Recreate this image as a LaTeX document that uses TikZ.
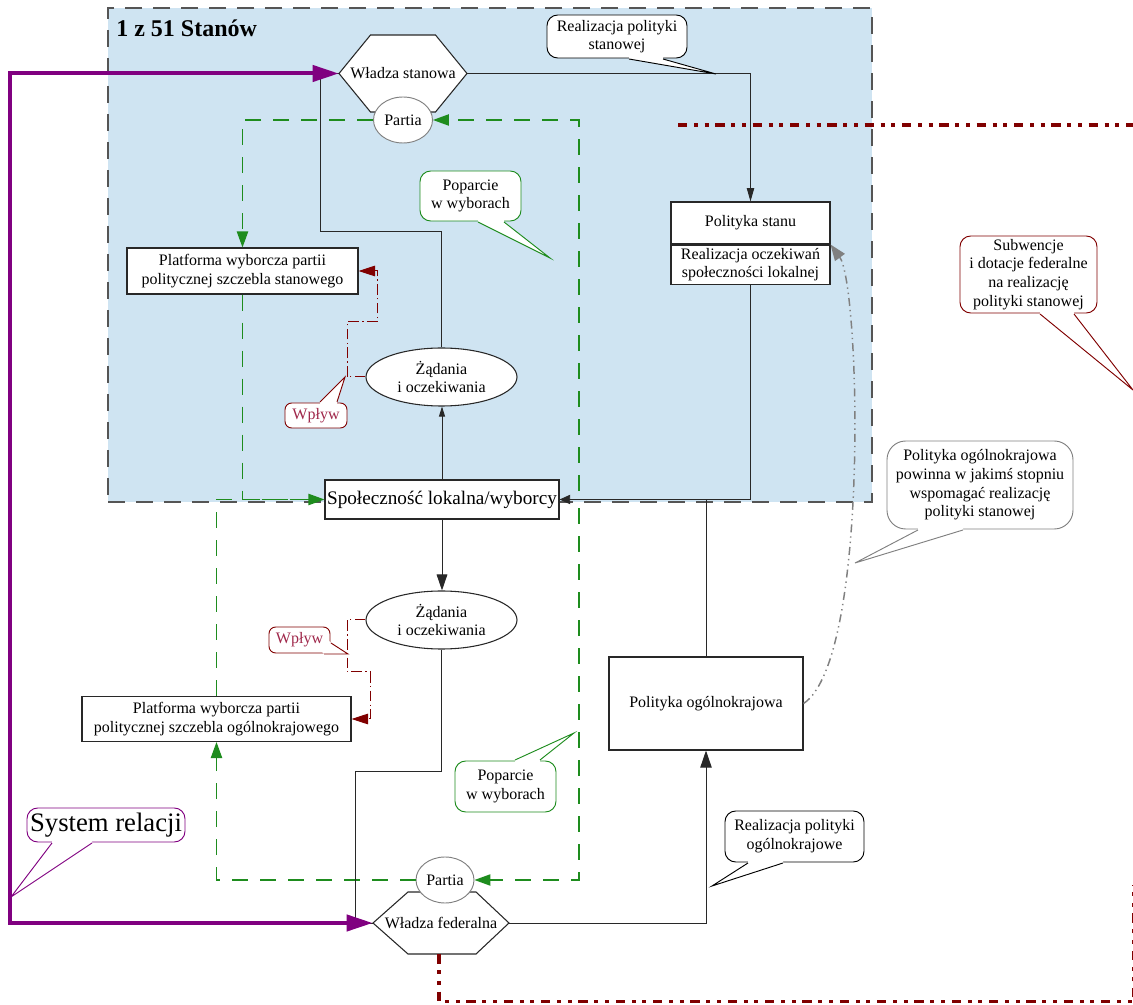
\documentclass[tikz,border=0pt]{standalone}
\usepackage{fontspec}
\setmainfont{Liberation Serif}
\usetikzlibrary{arrows.meta,shapes.geometric,calc}
\definecolor{bluebg}{RGB}{207,228,242}
\definecolor{bordergray}{RGB}{85,85,85}
\definecolor{grn}{RGB}{30,140,30}
\definecolor{dred}{RGB}{128,0,0}
\definecolor{wtxt}{RGB}{160,40,75}
\definecolor{purp}{RGB}{128,0,128}
\definecolor{midgray}{RGB}{128,128,128}
\definecolor{linegray}{RGB}{40,40,40}
\newcommand\mytail[5]{%
  \fill[white] ($#2+#5$) -- #2 -- #3 -- #4 -- ($#4+#5$) -- cycle;
  \draw[#1, line width=0.7pt, line join=miter] #2 -- #3 -- #4;}
\begin{document}
\begin{tikzpicture}[x=0.75pt, y=-0.75pt, font=\fontsize{12}{14}\selectfont,
  box/.style={draw=linegray, fill=white, line width=0.8pt, inner sep=0pt, align=center},
  ell/.style={ellipse, draw=linegray, fill=white, line width=0.8pt, inner sep=0pt, align=center},
  pell/.style={ellipse, draw=midgray, fill=white, line width=0.7pt, inner sep=0pt},
  hexlbl/.style={inner sep=0pt},
  hexshape/.style={draw=linegray, fill=white, line width=0.8pt},
  callout/.style={draw, fill=white, rounded corners=8pt, line width=0.7pt, inner sep=0pt, align=center},
  conn/.style={draw=linegray, line width=0.7pt},
  gconn/.style={draw=grn, line width=0.9pt, dash pattern=on 12pt off 9pt},
  rconn/.style={draw=dred, line width=0.75pt, dash pattern=on 8pt off 2.5pt on 1pt off 2.5pt},
  heavy/.style={draw=dred, line width=2.6pt, dash pattern=on 7pt off 5pt on 3pt off 5pt on 3pt off 5pt},
  ]
\useasboundingbox (0,0) rectangle (1133,1005);

% state region
\node[fill=bluebg, draw=bordergray, line width=1.5pt, dash pattern=on 13pt off 8pt,
      minimum width=573pt, minimum height=370.5pt, inner sep=0pt] (stan) at (490,255) {};
\node[anchor=west, inner sep=0pt, font=\bfseries\fontsize{18}{20}\selectfont] (title) at (116,28) {1 z 51 Stanów};

% heavy red dotted line (top)
\coordinate (rA) at (678,125);
\coordinate (rB) at (1140,125);
\draw[heavy] (rA) -- (rB);

% hexagons and party ellipses
\draw[hexshape] (339,73.5) -- (370.5,35) -- (435.5,35) -- (467,73.5) -- (435.5,112) -- (370.5,112) -- cycle;
\node[hexlbl, minimum width=96pt, minimum height=57.75pt] (WS) at (403,73.5) {Władza stanowa};
\node[pell, minimum width=44.25pt, minimum height=34.5pt] (P1) at (403,120) {Partia};

\draw[hexshape] (373,923) -- (408,892) -- (476,892) -- (509,923) -- (476,954) -- (408,954) -- cycle;
\node[hexlbl, minimum width=102pt, minimum height=46.5pt] (WF) at (441,923) {Władza federalna};
\node[pell, minimum width=43.5pt, minimum height=34.5pt] (P2) at (445,880) {Partia};

% main nodes
\node[ell, minimum width=113.25pt, minimum height=43.5pt] (Z1) at (441.5,377) {Żądania\\i oczekiwania};
\node[ell, minimum width=113.25pt, minimum height=43.5pt] (Z2) at (441.5,620) {Żądania\\i oczekiwania};
\node[box, minimum width=175.5pt, minimum height=29.25pt, font=\fontsize{14.4}{16}\selectfont] (S) at (442,499.5) {Społeczność lokalna/wyborcy};
\node[box, minimum width=173.25pt, minimum height=34.5pt] (PS) at (242.5,271) {Platforma wyborcza partii\\politycznej szczebla stanowego};
\node[box, minimum width=201.75pt, minimum height=33.75pt] (PO) at (216.5,719) {Platforma wyborcza partii\\politycznej szczebla ogólnokrajowego};
\node[box, minimum width=119.25pt, minimum height=31.5pt] (PST) at (750.5,223) {Polityka stanu};
\node[box, minimum width=119.25pt, minimum height=29.25pt, anchor=north] (PSB) at (PST.south) {Realizacja oczekiwań\\społeczności lokalnej};
\node[box, minimum width=145.5pt, minimum height=69.75pt] (POG) at (706,703.5) {Polityka ogólnokrajowa};

% callouts
\node[callout, minimum width=105pt, minimum height=32.25pt] (C1) at (617,36.5) {Realizacja polityki\\stanowej};
\node[callout, draw=grn, minimum width=75.75pt, minimum height=37.5pt] (C2) at (470.5,196) {Poparcie\\w wyborach};
\node[callout, draw=dred, text=wtxt, minimum width=46.5pt, minimum height=18.75pt, rounded corners=5pt] (C3) at (316,415.5) {Wpływ};
\node[callout, draw=dred, minimum width=102.75pt, minimum height=57.75pt] (C4) at (1028.5,274.5) {Subwencje\\i dotacje federalne\\na realizację\\polityki stanowej};
\node[callout, draw=midgray, minimum width=139.5pt, minimum height=66pt, rounded corners=14pt] (C5) at (980,485) {Polityka ogólnokrajowa\\powinna w jakimś stopniu\\wspomagać realizację\\polityki stanowej};
\node[callout, draw=dred, text=wtxt, minimum width=45.75pt, minimum height=19.5pt, rounded corners=5pt] (C6) at (299.5,640) {Wpływ};
\node[callout, draw=grn, minimum width=75.75pt, minimum height=38.25pt] (C7) at (505.5,786.5) {Poparcie\\w wyborach};
\node[callout, minimum width=104.25pt, minimum height=38.25pt] (C8) at (794.5,836.5) {Realizacja polityki\\ogólnokrajowe};
\node[callout, draw=purp, minimum width=118.5pt, minimum height=25.5pt, font=\fontsize{20}{22}\selectfont] (C9) at (106,825) {System relacji};

% bottom heavy red dotted line
\coordinate (rC) at (439,1001.5);
\coordinate (rD) at (1134.2,1001.5);
\coordinate (rE) at (1134.2,885);
\draw[heavy] (WF.south -| rC) -- (rC) -- (rD) -- (rE);

% green connectors
\coordinate (g1) at (579,499.5);
\draw[gconn, -{Triangle[length=12pt,width=8.5pt]}] (P1.west) -| (PS.north);
\draw[gconn, -{Triangle[length=12pt,width=8.5pt]}] (PS.south) |- (S.west);
\draw[gconn] (PO.north) |- (S.west);
\draw[gconn, -{Triangle[length=12pt,width=8.5pt]}] (P2.west) -| (PO.south);
\draw[gconn, -{Triangle[length=12pt,width=8.5pt]}] (S.east) -- (g1) |- (P1.east);
\draw[gconn, -{Triangle[length=12pt,width=8.5pt]}] (S.east) -- (g1) |- (P2.east);

% black connectors
\coordinate (k1) at (320,231);
\coordinate (k2) at (355,771);
\draw[conn, -{Triangle[length=10pt,width=5.5pt]}] (WS.east) -| (PST.north);
\draw[conn, -{Triangle[length=8pt,width=7pt]}] (PSB.south) |- (S.east);
\draw[conn] (POG.north) |- (S.east);
\draw[conn, -{Triangle[length=7.5pt,width=4.5pt]}] (S.north) -- (S.north |- Z1.south);
\draw[conn, -{Triangle[length=12pt,width=8pt]}] (S.south) -- (S.south |- Z2.north);
\draw[conn] (Z1.north) |- (k1) |- (WS.west);
\draw[conn] (Z2.south) |- (k2) |- (WF.west);
\draw[conn, -{Triangle[length=12.75pt,width=8.5pt]}] (WF.east) -| (POG.south);

% influence (dash-dot red)
\coordinate (w1) at (347,322);
\coordinate (w2) at (377,271);
\coordinate (w3) at (347,672);
\coordinate (w4) at (370,719);
\draw[rconn, -{Triangle[length=12.5pt,width=8pt]}] (Z1.west) -| (w1) -| (w2) -- (PS.east);
\draw[rconn, -{Triangle[length=12.5pt,width=8pt]}] (Z2.west) -| (w3) -| (w4) -- (PO.east);

% grey support curve
\draw[midgray, line width=1.1pt, dash pattern=on 6pt off 3pt on 1pt off 3pt on 1pt off 3pt,
      -{Triangle[length=12pt,width=9pt]}] (POG.east) .. controls (870,660) and (860,285) .. (PSB.north east);

% callout tails
\mytail{black}{(629,59)}{(716,74)}{(663,59)}{(0,-3)}
\mytail{grn}{(478,222)}{(550,258)}{(504,222)}{(0,-3)}
\mytail{dred}{(320,402)}{(345,377)}{(337,402)}{(0,3)}
\mytail{dred}{(1040,314)}{(1133,390)}{(1074,314)}{(0,-3)}
\mytail{midgray}{(918,530)}{(855,563)}{(963,530)}{(0,-3)}
\mytail{dred}{(331,643)}{(348,654)}{(324,654)}{(-3,-3)}
\mytail{grn}{(515,760)}{(574,733)}{(540,760)}{(0,3)}
\mytail{black}{(748,863)}{(712,886)}{(783,863)}{(0,-3)}
\mytail{purp}{(52,843)}{(11,897)}{(92,843)}{(0,-3)}

% system of relations (purple)
\coordinate (sysTop) at (10,73.5);
\coordinate (sysBot) at (10,923);
\draw[purp, line width=3pt, line join=miter,
      {Triangle[length=19.5pt,width=12pt]}-{Triangle[length=19.5pt,width=12pt]}]
      (WF.west) -- (sysBot) -- (sysTop) -- (WS.west);
\end{tikzpicture}
\end{document}
